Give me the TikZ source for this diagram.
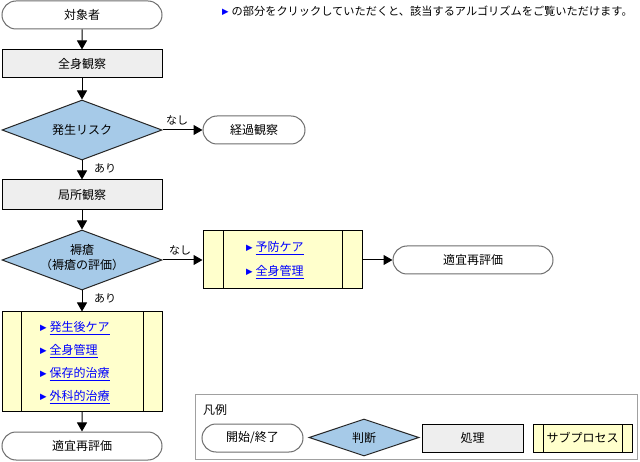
\documentclass[tikz,border=0pt]{standalone}
\usepackage{fontspec}
\setmainfont{Noto Sans CJK JP}
\newfontfamily\dv{DejaVu Sans}
\usetikzlibrary{shapes.geometric,shapes.misc,arrows.meta}
\definecolor{decfill}{RGB}{166,202,232}
\definecolor{subfill}{RGB}{255,255,204}
\definecolor{procfill}{RGB}{238,238,238}
\definecolor{linkblue}{RGB}{0,0,255}
\definecolor{termline}{RGB}{110,110,110}
\definecolor{legline}{RGB}{160,160,160}
\newcommand\mk{\raisebox{1.2pt}{\color{linkblue}\dv\fontsize{8.5}{8.5}\selectfont ▶}}
\newcommand\lnk[1]{\textcolor{linkblue}{\underline{#1}}}
\tikzset{
  every node/.style={font=\fontsize{12}{14}\selectfont, inner sep=0pt},
  terminal/.style={rounded rectangle, draw=termline, fill=white, line width=1pt, minimum height=28pt},
  process/.style={rectangle, draw=black, fill=procfill, line width=1pt, minimum height=28pt},
  decision/.style={diamond, draw=black!85, fill=decfill, line width=1pt, aspect=2.67},
  subproc/.style={rectangle, draw=black, fill=subfill, line width=1pt,
    path picture={\draw[line width=1pt] ([xshift=#1]path picture bounding box.north west) -- ([xshift=#1]path picture bounding box.south west);
                  \draw[line width=1pt] ([xshift=-#1]path picture bounding box.north east) -- ([xshift=-#1]path picture bounding box.south east);}},
  arr/.style={-{Triangle[width=10pt,length=9pt]}, line width=1pt},
  item/.style={anchor=west},
  lbl/.style={font=\fontsize{11}{13}\selectfont}
}
\begin{document}
\begin{tikzpicture}[x=1pt,y=-1pt]
\useasboundingbox (0,0) rectangle (640,462);
\fill[white] (0,0) rectangle (640,462);
% header
\node[item, font=\fontsize{11.2}{13}\selectfont] (hdr) at (222,11) {\mk\hspace{3pt}の部分をクリックしていただくと、該当するアルゴリズムをご覧いただけます。};
% main flow
\node[terminal, minimum width=160pt] (t1) at (82,15) {対象者};
\node[process, minimum width=160pt] (p1) at (82,64) {全身観察};
\node[decision, minimum width=160pt, minimum height=60pt] (d1) at (82,130) {発生リスク};
\node[terminal, minimum width=102pt] (t2) at (254,130) {経過観察};
\node[process, minimum width=160pt, minimum height=30pt] (p2) at (82,195) {局所観察};
\node[decision, minimum width=160pt, minimum height=60pt] (d2) at (82,260) {};
\node[align=center, font=\fontsize{12}{15}\selectfont] (d2t) at (82,258) {褥瘡\\（褥瘡の評価）};
\node[subproc=20pt, minimum width=159pt, minimum height=58pt] (s1) at (282.5,260) {};
\node[item] (s1a) at (246,248) {\mk\hspace{3pt}\lnk{予防ケア}};
\node[item] (s1b) at (246,272) {\mk\hspace{3pt}\lnk{全身管理}};
\node[terminal, minimum width=160pt] (t3) at (473,260) {適宜再評価};
\node[subproc=19pt, minimum width=160pt, minimum height=99pt] (s2) at (82,361.5) {};
\node[item] (s2a) at (40,328) {\mk\hspace{3pt}\lnk{発生後ケア}};
\node[item] (s2b) at (40,351) {\mk\hspace{3pt}\lnk{全身管理}};
\node[item] (s2c) at (40,374) {\mk\hspace{3pt}\lnk{保存的治療}};
\node[item] (s2d) at (40,397) {\mk\hspace{3pt}\lnk{外科的治療}};
\node[terminal, minimum width=160pt] (t4) at (82,446) {適宜再評価};
% connectors
\draw[arr] (t1) -- (p1);
\draw[arr] (p1) -- (d1);
\draw[arr] (d1) -- (t2);
\draw[arr] (d1) -- (p2);
\draw[arr] (p2) -- (d2);
\draw[arr] (d2) -- (s1);
\draw[arr] (s1) -- (t3);
\draw[arr] (d2) -- (s2);
\draw[arr] (s2) -- (t4);
\node[lbl] (n1) at (177,120) {なし};
\node[lbl] (a1) at (105,168) {あり};
\node[lbl] (n2) at (180,250) {なし};
\node[lbl] (a2) at (105,298) {あり};
% legend
\node[rectangle, draw=legline, fill=white, line width=1pt, minimum width=442pt, minimum height=65pt] (leg) at (416,426.5) {};
\node[item] (legt) at (203,410) {凡例};
\node[terminal, minimum width=101pt] (lt) at (252.5,438) {開始/終了};
\node[decision, minimum width=110pt, minimum height=37pt, aspect=2.97] (ld) at (364,437.5) {判断};
\node[process, minimum width=101pt] (lp) at (472.5,438) {処理};
\node[subproc=10pt, minimum width=99pt, minimum height=28pt] (ls) at (582.5,438) {サブプロセス};
\end{tikzpicture}
\end{document}
